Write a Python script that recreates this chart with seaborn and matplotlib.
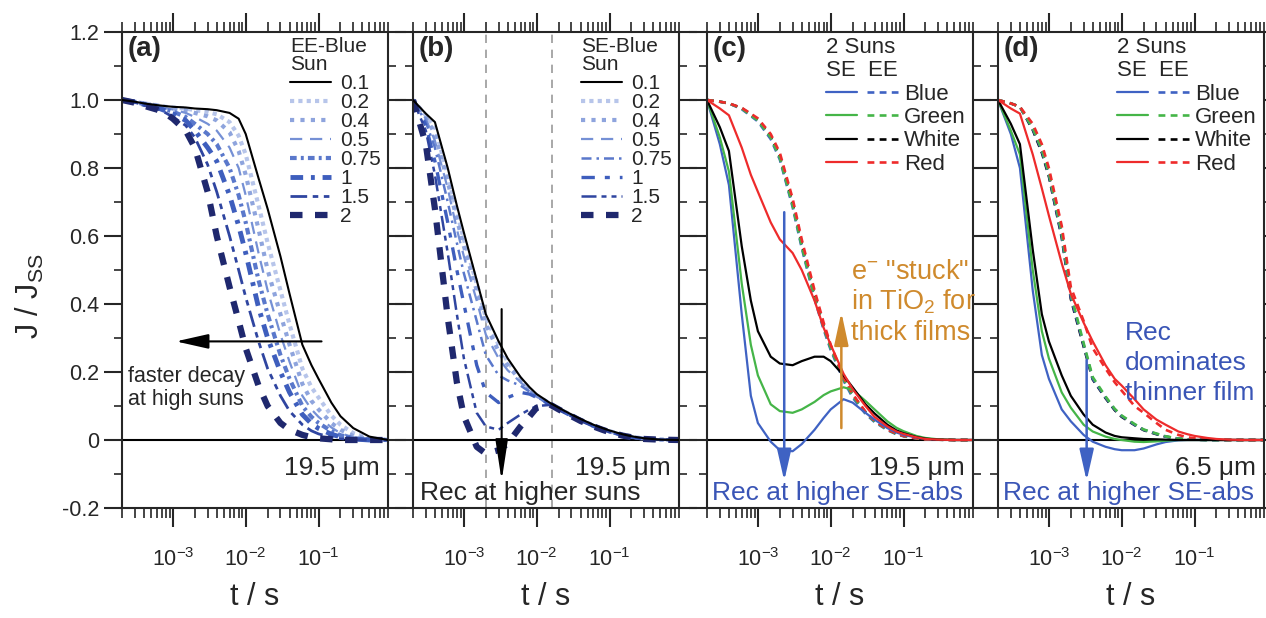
import numpy as np
import matplotlib
matplotlib.use('Agg')
import matplotlib.pyplot as plt
import seaborn as sns
from matplotlib.ticker import LogLocator, MultipleLocator, FuncFormatter, NullFormatter
from matplotlib.legend_handler import HandlerTuple

sns.set_style('ticks')
plt.rcParams['font.family'] = ['Liberation Sans', 'DejaVu Sans']
plt.rcParams['mathtext.fontset'] = 'custom'
plt.rcParams['mathtext.rm'] = 'Liberation Sans'
plt.rcParams['mathtext.it'] = 'Liberation Sans:italic'
plt.rcParams['mathtext.bf'] = 'Liberation Sans:bold'

# time grid (s), shared by all transients
t = [2e-4, 3e-4, 4e-4, 6e-4, 8e-4, 1e-3, 1.5e-3, 2e-3, 3e-3, 4e-3, 6e-3, 8e-3, 1e-2,
     1.5e-2, 2e-2, 3e-2, 4e-2, 6e-2, 8e-2, 0.1, 0.15, 0.2, 0.3, 0.5, 0.9]

sun_labels = ['0.1', '0.2', '0.4', '0.5', '0.75', '1', '1.5', '2']

# (a) EE-Blue, 19.5 um
a_01 = [1.0, 0.995, 0.99, 0.985, 0.982, 0.98, 0.978, 0.975, 0.973, 0.97, 0.962, 0.945, 0.90, 0.77, 0.68, 0.54, 0.43, 0.28, 0.22, 0.18, 0.11, 0.07, 0.035, 0.01, 0.0]
a_02 = [1.0, 0.995, 0.99, 0.985, 0.98, 0.978, 0.975, 0.97, 0.965, 0.958, 0.935, 0.895, 0.84, 0.69, 0.58, 0.44, 0.34, 0.21, 0.155, 0.125, 0.072, 0.045, 0.02, 0.005, 0.0]
a_04 = [1.0, 0.995, 0.99, 0.984, 0.978, 0.975, 0.97, 0.962, 0.952, 0.94, 0.905, 0.85, 0.78, 0.62, 0.50, 0.37, 0.28, 0.165, 0.115, 0.09, 0.05, 0.03, 0.012, 0.003, 0.0]
a_05 = [1.0, 0.995, 0.99, 0.983, 0.976, 0.972, 0.962, 0.95, 0.93, 0.91, 0.86, 0.80, 0.72, 0.55, 0.44, 0.31, 0.23, 0.13, 0.09, 0.068, 0.037, 0.02, 0.008, 0.002, 0.0]
a_075 = [1.0, 0.994, 0.988, 0.98, 0.972, 0.966, 0.95, 0.93, 0.90, 0.87, 0.80, 0.72, 0.64, 0.47, 0.37, 0.25, 0.18, 0.10, 0.068, 0.05, 0.026, 0.014, 0.005, 0.001, 0.0]
a_1 = [1.0, 0.994, 0.987, 0.978, 0.968, 0.96, 0.94, 0.91, 0.86, 0.82, 0.72, 0.63, 0.55, 0.39, 0.30, 0.20, 0.14, 0.075, 0.048, 0.034, 0.017, 0.009, 0.003, 0.0, 0.0]
a_15 = [1.0, 0.993, 0.985, 0.975, 0.962, 0.95, 0.925, 0.89, 0.81, 0.73, 0.60, 0.50, 0.42, 0.29, 0.21, 0.13, 0.085, 0.045, 0.027, 0.018, 0.008, 0.004, 0.001, 0.0, 0.0]
a_2 = [1.0, 0.992, 0.983, 0.972, 0.96, 0.945, 0.91, 0.86, 0.73, 0.60, 0.45, 0.35, 0.27, 0.16, 0.10, 0.05, 0.03, 0.015, 0.008, 0.005, 0.002, 0.0, 0.0, 0.0, 0.0]

# (b) SE-Blue, 19.5 um
b_01 = [1.0, 0.96, 0.935, 0.80, 0.69, 0.61, 0.47, 0.37, 0.29, 0.24, 0.185, 0.155, 0.135, 0.11, 0.095, 0.075, 0.062, 0.045, 0.035, 0.028, 0.017, 0.011, 0.005, 0.001, 0.0]
b_02 = [1.0, 0.955, 0.92, 0.78, 0.67, 0.59, 0.46, 0.36, 0.28, 0.23, 0.18, 0.15, 0.13, 0.108, 0.093, 0.073, 0.06, 0.043, 0.033, 0.026, 0.016, 0.01, 0.004, 0.001, 0.0]
b_04 = [1.0, 0.95, 0.90, 0.76, 0.65, 0.57, 0.44, 0.34, 0.26, 0.22, 0.175, 0.148, 0.13, 0.107, 0.092, 0.072, 0.059, 0.042, 0.032, 0.025, 0.015, 0.009, 0.004, 0.001, 0.0]
b_05 = [1.0, 0.945, 0.88, 0.74, 0.62, 0.54, 0.41, 0.31, 0.24, 0.205, 0.17, 0.145, 0.128, 0.106, 0.091, 0.071, 0.058, 0.041, 0.031, 0.025, 0.015, 0.009, 0.004, 0.001, 0.0]
b_075 = [1.0, 0.935, 0.86, 0.70, 0.58, 0.49, 0.35, 0.25, 0.19, 0.175, 0.16, 0.142, 0.127, 0.105, 0.09, 0.07, 0.057, 0.04, 0.031, 0.024, 0.014, 0.009, 0.004, 0.001, 0.0]
b_1 = [1.0, 0.925, 0.82, 0.64, 0.50, 0.40, 0.22, 0.14, 0.11, 0.125, 0.14, 0.135, 0.125, 0.105, 0.09, 0.07, 0.057, 0.04, 0.03, 0.024, 0.014, 0.008, 0.003, 0.001, 0.0]
b_15 = [1.0, 0.91, 0.78, 0.55, 0.37, 0.24, 0.08, 0.04, 0.03, 0.05, 0.075, 0.09, 0.10, 0.103, 0.09, 0.07, 0.056, 0.04, 0.03, 0.023, 0.013, 0.008, 0.003, 0.001, 0.0]
b_2 = [1.0, 0.87, 0.68, 0.36, 0.17, 0.07, -0.02, -0.04, -0.03, -0.01, 0.04, 0.07, 0.095, 0.105, 0.09, 0.07, 0.056, 0.04, 0.03, 0.023, 0.013, 0.008, 0.003, 0.001, 0.0]

# (c) 2 suns, 19.5 um : SE (solid) and EE (dashed)
c_se_blue = [1.0, 0.87, 0.75, 0.37, 0.13, 0.05, -0.005, -0.03, -0.033, -0.012, 0.03, 0.065, 0.09, 0.12, 0.11, 0.08, 0.06, 0.035, 0.022, 0.015, 0.007, 0.003, 0.001, 0.0, 0.0]
c_se_green = [1.0, 0.89, 0.79, 0.46, 0.28, 0.19, 0.105, 0.085, 0.08, 0.09, 0.112, 0.132, 0.143, 0.155, 0.148, 0.115, 0.09, 0.055, 0.036, 0.026, 0.012, 0.006, 0.002, 0.0, 0.0]
c_se_white = [1.0, 0.92, 0.85, 0.57, 0.41, 0.32, 0.245, 0.225, 0.22, 0.232, 0.245, 0.245, 0.232, 0.19, 0.155, 0.105, 0.078, 0.045, 0.028, 0.02, 0.009, 0.004, 0.001, 0.0, 0.0]
c_se_red = [1.0, 0.975, 0.955, 0.86, 0.78, 0.73, 0.64, 0.59, 0.55, 0.50, 0.41, 0.33, 0.28, 0.195, 0.15, 0.10, 0.068, 0.04, 0.025, 0.018, 0.008, 0.003, 0.001, 0.0, 0.0]
c_ee_blue = [1.0, 0.995, 0.99, 0.973, 0.953, 0.937, 0.885, 0.825, 0.685, 0.565, 0.415, 0.325, 0.265, 0.175, 0.125, 0.077, 0.053, 0.029, 0.017, 0.011, 0.005, 0.002, 0.001, 0.0, 0.0]
c_ee_green = [1.0, 0.995, 0.99, 0.975, 0.955, 0.94, 0.89, 0.83, 0.69, 0.57, 0.42, 0.33, 0.27, 0.18, 0.13, 0.08, 0.055, 0.03, 0.018, 0.012, 0.005, 0.002, 0.001, 0.0, 0.0]
c_ee_white = [1.0, 0.995, 0.99, 0.976, 0.957, 0.942, 0.893, 0.835, 0.695, 0.575, 0.425, 0.335, 0.275, 0.183, 0.133, 0.082, 0.056, 0.031, 0.018, 0.012, 0.005, 0.002, 0.001, 0.0, 0.0]
c_ee_red = [1.0, 0.995, 0.99, 0.977, 0.96, 0.946, 0.90, 0.845, 0.71, 0.59, 0.44, 0.345, 0.28, 0.185, 0.135, 0.083, 0.057, 0.031, 0.019, 0.012, 0.005, 0.002, 0.001, 0.0, 0.0]

# (d) 2 suns, 6.5 um
d_se_blue = [1.0, 0.90, 0.80, 0.44, 0.25, 0.18, 0.09, 0.055, 0.015, -0.005, -0.02, -0.027, -0.03, -0.03, -0.025, -0.013, -0.006, -0.001, 0.0, 0.0, 0.0, 0.0, 0.0, 0.0, 0.0]
d_se_green = [1.0, 0.91, 0.84, 0.50, 0.32, 0.24, 0.14, 0.095, 0.045, 0.025, 0.01, 0.003, 0.0, -0.005, -0.006, -0.004, -0.002, 0.0, 0.0, 0.0, 0.0, 0.0, 0.0, 0.0, 0.0]
d_se_white = [1.0, 0.93, 0.87, 0.56, 0.37, 0.29, 0.19, 0.13, 0.075, 0.045, 0.022, 0.012, 0.008, 0.005, 0.003, 0.002, 0.001, 0.0, 0.0, 0.0, 0.0, 0.0, 0.0, 0.0, 0.0]
d_se_red = [1.0, 0.975, 0.96, 0.84, 0.74, 0.66, 0.52, 0.43, 0.345, 0.29, 0.22, 0.18, 0.16, 0.12, 0.09, 0.06, 0.045, 0.025, 0.017, 0.012, 0.006, 0.003, 0.001, 0.0, 0.0]
d_ee_blue = [1.0, 0.99, 0.98, 0.915, 0.85, 0.78, 0.60, 0.42, 0.28, 0.18, 0.125, 0.09, 0.07, 0.045, 0.03, 0.018, 0.01, 0.004, 0.002, 0.001, 0.0, 0.0, 0.0, 0.0, 0.0]
d_ee_green = [1.0, 0.99, 0.98, 0.918, 0.855, 0.785, 0.61, 0.43, 0.285, 0.185, 0.128, 0.092, 0.072, 0.047, 0.031, 0.019, 0.011, 0.004, 0.002, 0.001, 0.0, 0.0, 0.0, 0.0, 0.0]
d_ee_white = [1.0, 0.99, 0.98, 0.912, 0.845, 0.775, 0.595, 0.415, 0.275, 0.178, 0.123, 0.088, 0.068, 0.044, 0.029, 0.017, 0.01, 0.004, 0.002, 0.001, 0.0, 0.0, 0.0, 0.0, 0.0]
d_ee_red = [1.0, 0.99, 0.98, 0.93, 0.87, 0.80, 0.63, 0.45, 0.35, 0.27, 0.21, 0.17, 0.145, 0.10, 0.08, 0.05, 0.03, 0.015, 0.008, 0.005, 0.002, 0.001, 0.0, 0.0, 0.0]

colour_names = ['Blue', 'Green', 'White', 'Red']

# colours / styles
shades = ['black', '#b7c5ea', '#8ea4dd', '#7590d5', '#5a78cb', '#3e5ebd', '#2f45a0', '#1f286e']
style_a = [('-', 1.5), ((0, (1, 1.0)), 3.0), ((0, (1, 1.5)), 3.0), ((0, (5.5, 3.5)), 1.6),
           ((0, (1.6, 1.0, 0.7, 1.0)), 3.0), ((0, (2.6, 1.6, 0.8, 1.6)), 3.5),
           ((0, (6, 2, 2, 2, 2, 2)), 2.0), ((0, (2, 2)), 4.5)]
style_b = [('-', 1.5), ((0, (1, 1.0)), 3.0), ((0, (1, 1.5)), 3.0), ((0, (5.5, 3.5)), 1.6),
           ((0, (4, 2, 1, 2)), 1.8), ((0, (4, 3, 1.5, 3)), 2.4),
           ((0, (6, 2, 2, 2, 2, 2)), 1.8), ((0, (2, 2)), 4.5)]
line_cols = {'Blue': '#3f62c3', 'Green': '#45b548', 'White': 'black', 'Red': '#ee2b2b'}
txt_blue = '#3a55b6'
orange = '#cf8a2d'


def style_axis(ax, show_ylabels):
    ax.set_xscale('log')
    ax.set_xlim(2e-4, 0.9)
    ax.set_ylim(-0.2, 1.2)
    ax.axhline(0, color='black', lw=1.5, zorder=1)
    ax.yaxis.set_major_locator(MultipleLocator(0.2))
    ax.yaxis.set_minor_locator(MultipleLocator(0.1))
    ax.yaxis.set_major_formatter(FuncFormatter(lambda v, p: '0' if abs(v) < 1e-9 else f'{v:.1f}'))
    ax.xaxis.set_major_locator(LogLocator(base=10, numticks=12))
    ax.xaxis.set_minor_locator(LogLocator(base=10, subs=np.arange(2, 10), numticks=12))
    ax.xaxis.set_minor_formatter(NullFormatter())
    ax.tick_params(axis='x', which='major', direction='out', length=14, width=1.5,
                   top=True, bottom=True, labelsize=15.5, pad=15)
    ax.tick_params(axis='x', which='minor', direction='out', length=7, width=1.2, top=True, bottom=True)
    ax.tick_params(axis='y', which='major', direction='out', length=13, width=1.5,
                   left=True, right=True, labelsize=15.5, labelleft=show_ylabels)
    ax.tick_params(axis='y', which='minor', direction='out', length=6, width=1.2, left=True, right=True)
    for s in ax.spines.values():
        s.set_visible(True)
        s.set_linewidth(1.5)
    ax.set_xlabel('t / s', fontsize=22, labelpad=8)
    ax.set_ylabel('')


fig = plt.figure(figsize=(12.66, 6.18), dpi=100)
lefts = [122, 413, 707, 998]
axes = [fig.add_axes([l / 1266, 110 / 618, 266 / 1266, 476 / 618]) for l in lefts]
for i, ax in enumerate(axes):
    style_axis(ax, i == 0)


def sun_panel(ax, series, styles, title):
    handles = []
    for y, col, (ls, lw) in zip(series, shades, styles):
        sns.lineplot(x=t, y=y, ax=ax, color=col, linestyle=ls, lw=lw, legend=False)
        handles.append(ax.lines[-1])
    # black reference on top
    handles[0].set_zorder(5)
    leg = ax.legend(handles, sun_labels, title=title, loc='upper left', bbox_to_anchor=(0.62, 0.997),
                    frameon=False, fontsize=15, title_fontsize=15, handlelength=1.95,
                    handletextpad=0.45, labelspacing=0.0, borderpad=0.15, borderaxespad=0,
                    alignment='left')
    leg.get_title().set_linespacing(0.95)


sun_panel(axes[0], [a_01, a_02, a_04, a_05, a_075, a_1, a_15, a_2], style_a, 'EE-Blue\nSun')
sun_panel(axes[1], [b_01, b_02, b_04, b_05, b_075, b_1, b_15, b_2], style_b, 'SE-Blue\nSun')


def colour_panel(ax, se, ee):
    pairs = {}
    # EE (dashed) first, white underneath so the coloured dashes show through
    for name in ['White', 'Blue', 'Green', 'Red']:
        i = colour_names.index(name)
        sns.lineplot(x=t, y=ee[i], ax=ax, color=line_cols[name],
                     linestyle=(0, (2.6, 2.0)), lw=1.9, legend=False)
        pairs[name] = [None, ax.lines[-1]]
    for name, y_se in zip(colour_names, se):
        sns.lineplot(x=t, y=y_se, ax=ax, color=line_cols[name], linestyle='-', lw=1.6, legend=False)
        pairs[name][0] = ax.lines[-1]
    leg = ax.legend([tuple(pairs[n]) for n in colour_names], colour_names, title='2 Suns\nSE  EE',
                    loc='upper left', bbox_to_anchor=(0.435, 0.997),
                    handler_map={tuple: HandlerTuple(ndivide=None, pad=0.45)},
                    frameon=False, fontsize=16, title_fontsize=16, handlelength=3.25,
                    handletextpad=0.25, labelspacing=0.11, borderpad=0.15, borderaxespad=0,
                    alignment='left')
    leg.get_title().set_linespacing(1.15)


colour_panel(axes[2], [c_se_blue, c_se_green, c_se_white, c_se_red],
             [c_ee_blue, c_ee_green, c_ee_white, c_ee_red])
colour_panel(axes[3], [d_se_blue, d_se_green, d_se_white, d_se_red],
             [d_ee_blue, d_ee_green, d_ee_white, d_ee_red])

# panel letters and film thickness
for ax, letter, thick in zip(axes, 'abcd', ['19.5 μm', '19.5 μm', '19.5 μm', '6.5 μm']):
    ax.text(0.022, 0.965, f'({letter})', transform=ax.transAxes, fontsize=20,
            fontweight='bold', va='center', ha='left')
    ax.text(0.97, 0.085, thick, transform=ax.transAxes, fontsize=19, va='center', ha='right')

# (a) annotation
ax = axes[0]
ax.annotate('', xy=(1.1e-3, 0.29), xytext=(0.11, 0.29),
            arrowprops=dict(arrowstyle='-|>,head_length=2.0,head_width=0.45', mutation_scale=10,
                            lw=1.5, color='black', shrinkA=0, shrinkB=0))
ax.text(0.022, 0.252, 'faster decay\nat high suns', transform=ax.transAxes, fontsize=15.5,
        va='center', ha='left', linespacing=1.1)

# (b) annotation
ax = axes[1]
for xv in [2e-3, 1.6e-2]:
    ax.axvline(xv, color='#9a9a9a', lw=1.2, ls=(0, (5, 4)), zorder=0)
ax.annotate('', xy=(3.3e-3, -0.12), xytext=(3.3e-3, 0.385),
            arrowprops=dict(arrowstyle='-|>,head_length=2.5,head_width=0.38', mutation_scale=10,
                            lw=1.5, color='black', shrinkA=0, shrinkB=0), zorder=6)
ax.text(0.025, 0.032, 'Rec at higher suns', transform=ax.transAxes, fontsize=19, va='center', ha='left')

# (c) annotation
ax = axes[2]
ax.annotate('', xy=(2.3e-3, -0.12), xytext=(2.3e-3, 0.67),
            arrowprops=dict(arrowstyle='-|>,head_length=1.9,head_width=0.43', mutation_scale=10,
                            lw=1.8, color=line_cols['Blue'], shrinkA=0, shrinkB=0), zorder=6)
ax.annotate('', xy=(1.4e-2, 0.376), xytext=(1.4e-2, 0.035),
            arrowprops=dict(arrowstyle='-|>,head_length=2.0,head_width=0.43', mutation_scale=10,
                            lw=1.8, color=orange, shrinkA=0, shrinkB=0), zorder=6)
ax.text(0.541, 0.496, 'e$^{-}$ "stuck"', transform=ax.transAxes, fontsize=19.5, color=orange, va='center')
ax.text(0.541, 0.433, 'in TiO$_{2}$ for', transform=ax.transAxes, fontsize=19.5, color=orange, va='center')
ax.text(0.541, 0.368, 'thick films', transform=ax.transAxes, fontsize=19.5, color=orange, va='center')
ax.text(0.019, 0.032, 'Rec at higher SE-abs', transform=ax.transAxes, fontsize=19, color=txt_blue,
        va='center', ha='left')

# (d) annotation
ax = axes[3]
ax.annotate('', xy=(3.3e-3, -0.12), xytext=(3.3e-3, 0.235),
            arrowprops=dict(arrowstyle='-|>,head_length=1.9,head_width=0.43', mutation_scale=10,
                            lw=1.8, color=line_cols['Blue'], shrinkA=0, shrinkB=0), zorder=6)
ax.text(0.477, 0.368, 'Rec', transform=ax.transAxes, fontsize=19, color=txt_blue, va='center')
ax.text(0.477, 0.305, 'dominates', transform=ax.transAxes, fontsize=19, color=txt_blue, va='center')
ax.text(0.477, 0.242, 'thinner film', transform=ax.transAxes, fontsize=19, color=txt_blue, va='center')
ax.text(0.019, 0.032, 'Rec at higher SE-abs', transform=ax.transAxes, fontsize=19, color=txt_blue,
        va='center', ha='left')

fig.text(0.024, 0.52, 'J / J$_{\\mathrm{SS}}$', rotation=90, fontsize=22, va='center', ha='center')

fig.savefig('out.png', dpi=100)
